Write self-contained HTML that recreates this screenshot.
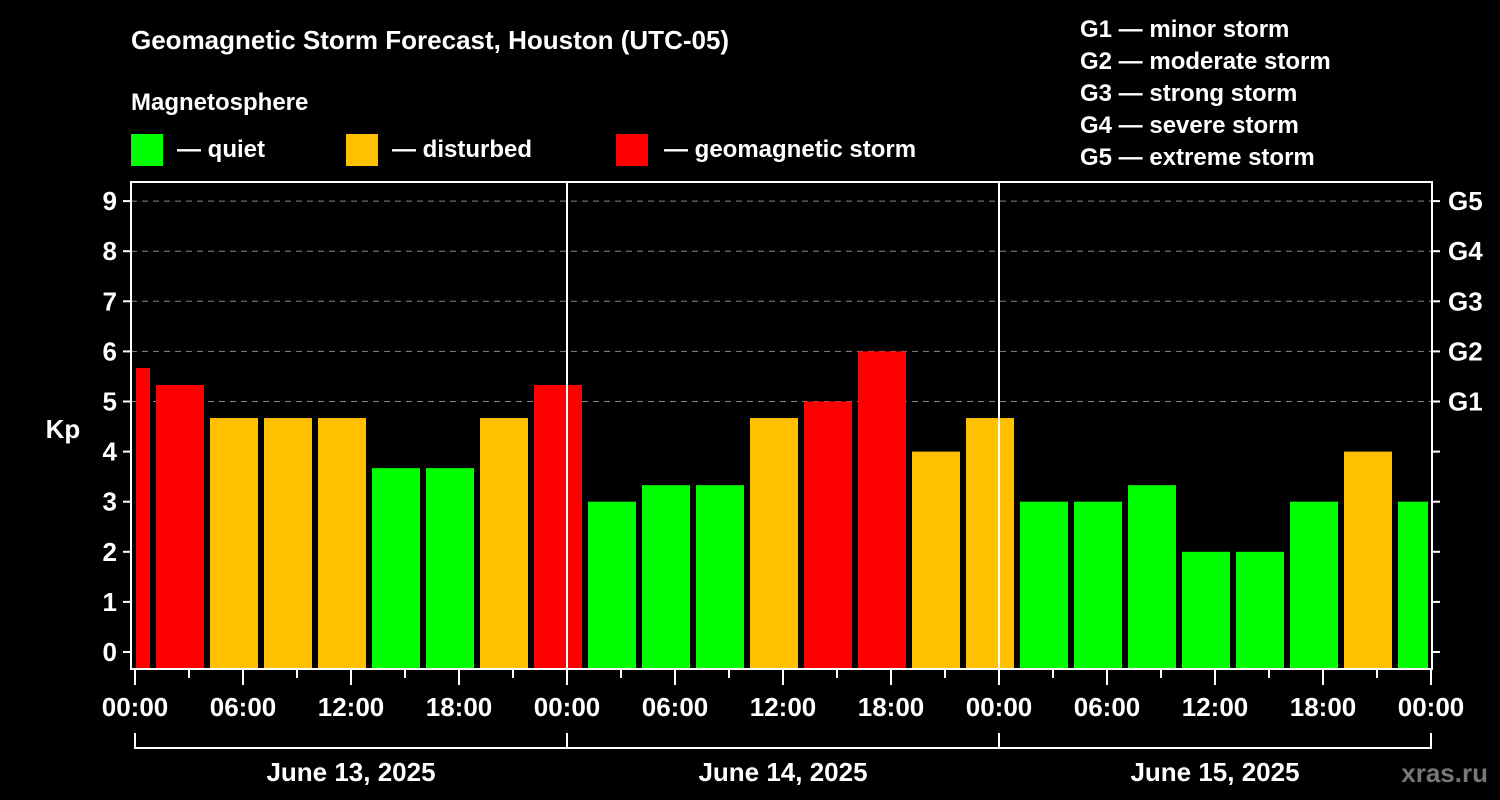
<!DOCTYPE html>
<html><head><meta charset="utf-8"><style>
html,body{margin:0;padding:0;background:#000;}
svg{display:block;font-family:"Liberation Sans",Arial,sans-serif;font-weight:bold;}
</style></head><body>
<svg id="chart" width="1500" height="800" viewBox="0 0 1500 800" xmlns="http://www.w3.org/2000/svg">
<rect width="1500" height="800" fill="#000"/>
<text x="131" y="49" fill="#fff" font-size="26">Geomagnetic Storm Forecast, Houston (UTC-05)</text>
<text x="131" y="110" fill="#fff" font-size="24">Magnetosphere</text>
<g><rect x="131" y="134" width="32" height="32" fill="#00ff00"/><text x="177" y="157" fill="#fff" font-size="24">— quiet</text></g>
<g><rect x="346" y="134" width="32" height="32" fill="#ffc000"/><text x="392" y="157" fill="#fff" font-size="24">— disturbed</text></g>
<g><rect x="616" y="134" width="32" height="32" fill="#ff0000"/><text x="664" y="157" fill="#fff" font-size="24">— geomagnetic storm</text></g>
<g fill="#fff" font-size="24">
<text x="1080" y="37">G1 — minor storm</text>
<text x="1080" y="69">G2 — moderate storm</text>
<text x="1080" y="101">G3 — strong storm</text>
<text x="1080" y="133">G4 — severe storm</text>
<text x="1080" y="165">G5 — extreme storm</text>
</g>
<text x="63" y="438" fill="#fff" font-size="26" text-anchor="middle">Kp</text>
<text x="1488" y="782" fill="#777" font-size="26" text-anchor="end">xras.ru</text>
<g id="grid"></g>
<g id="bars"></g>
<g id="axes"></g>
</svg>
<script>
const kpValues=[5.67,5.33,4.67,4.67,4.67,3.67,3.67,4.67,5.33,3,3.33,3.33,4.67,5,6,4,4.67,3,3,3.33,2,2,3,4,3];
const yTicks=[0,1,2,3,4,5,6,7,8,9];
const gLabels=["G1","G2","G3","G4","G5"];
const xTickLabels=["00:00","06:00","12:00","18:00","00:00","06:00","12:00","18:00","00:00","06:00","12:00","18:00","00:00"];
const dayLabels=["June 13, 2025","June 14, 2025","June 15, 2025"];
const firstBarStartHour=-2;
const NS="http://www.w3.org/2000/svg";
const L=131,R=1432,T=182,B=669,X0=135,HP=18;
function xs(h){return X0+h*HP;}
function ys(v){return 652-v*50.1;}
function mk(tag,attrs,parent){const e=document.createElementNS(NS,tag);for(const k in attrs)e.setAttribute(k,attrs[k]);parent.appendChild(e);return e;}
const grid=document.getElementById('grid'),bars=document.getElementById('bars'),axes=document.getElementById('axes');
yTicks.forEach(v=>{
  if(v>=5){const g=mk('line',{x1:L,x2:R,y1:ys(v),y2:ys(v),stroke:'#888','stroke-width':1,'stroke-dasharray':'6,5'},grid);
  
  }
  const t1=mk('line',{x1:L-8,x2:L,y1:ys(v),y2:ys(v),stroke:'#fff','stroke-width':2},axes);
  
  
  const t2=mk('line',{x1:R,x2:R+8,y1:ys(v),y2:ys(v),stroke:'#fff','stroke-width':2},axes);
  
  
  const lb=mk('text',{x:L-14,y:ys(v)+9,fill:'#fff','font-size':26,'text-anchor':'end'},axes);lb.textContent=v;
  
  
  if(v>=5){const g=mk('text',{x:R+16,y:ys(v)+9,fill:'#fff','font-size':26},axes);g.textContent=gLabels[v-5];
  
  }
});
kpValues.forEach((v,i)=>{
  const s=firstBarStartHour+i*3;
  let x1=xs(s)+3,x2=xs(s+3)-3;
  x1=Math.max(x1,L+5);x2=Math.min(x2,R-4);
  const c=v>=5?'#ff0000':(v>=4?'#ffc000':'#00ff00');
  const r=mk('rect',{x:x1,y:ys(v),width:x2-x1,height:B-ys(v),fill:c},bars);
  
  
});
[1,2].forEach(d=>{const l=mk('line',{x1:xs(d*24),x2:xs(d*24),y1:T,y2:B,stroke:'#fff','stroke-width':2},axes);

});
const fr=mk('rect',{x:L,y:T,width:R-L,height:B-T,fill:'none',stroke:'#fff','stroke-width':2},axes);


for(let h=0;h<=72;h+=3){
  const major=h%6===0;
  const t=mk('line',{x1:xs(h),x2:xs(h),y1:B,y2:B+(major?16:9),stroke:'#fff','stroke-width':2},axes);
  
  
}
xTickLabels.forEach((s,i)=>{const t=mk('text',{x:xs(i*6),y:716,fill:'#fff','font-size':26,'text-anchor':'middle'},axes);t.textContent=s;

});
const br=mk('path',{d:`M${xs(0)},733 V748 H${xs(72)} V733`,fill:'none',stroke:'#fff','stroke-width':2},axes);


[1,2].forEach(d=>{const l=mk('line',{x1:xs(d*24),x2:xs(d*24),y1:733,y2:748,stroke:'#fff','stroke-width':2},axes);

});
dayLabels.forEach((s,i)=>{const t=mk('text',{x:xs(i*24+12),y:781,fill:'#fff','font-size':26,'text-anchor':'middle'},axes);t.textContent=s;

});
</script>
</body></html>
